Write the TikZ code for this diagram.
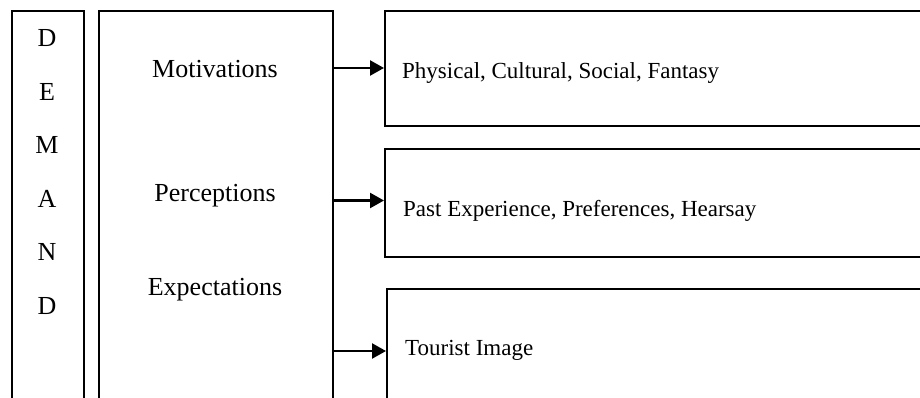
\documentclass[tikz,border=0pt]{standalone}
\usepackage{fontspec}
\setmainfont{Liberation Serif}
\usetikzlibrary{arrows.meta}
\begin{document}
\begin{tikzpicture}[x=1pt,y=-1pt,
  box/.style={draw,line width=1.6pt,anchor=north west,inner sep=0pt},
  txt/.style={font=\fontsize{26}{30}\selectfont,inner sep=0pt},
  rtxt/.style={font=\fontsize{23}{27}\selectfont,inner sep=0pt,anchor=base west},
  arr/.style={line width=2.4pt,-{Triangle[length=14pt,width=15pt]}}]
\useasboundingbox (0,0) rectangle (920,398);
% boxes
\node[box,minimum width=72pt,minimum height=420pt] (demand) at (11,10) {};
\node[box,minimum width=234pt,minimum height=420pt] (mid) at (98,10) {};
\node[box,minimum width=560pt,minimum height=115pt] (r1) at (384,10) {};
\node[box,minimum width=560pt,minimum height=108pt] (r2) at (384,148) {};
\node[box,minimum width=560pt,minimum height=140pt] (r3) at (386,288) {};
% DEMAND letters
\node[txt,anchor=base] (l1) at (47,46.7) {D};
\node[txt,anchor=base] (l2) at (47,100.2) {E};
\node[txt,anchor=base] (l3) at (47,153.7) {M};
\node[txt,anchor=base] (l4) at (47,207.2) {A};
\node[txt,anchor=base] (l5) at (47,260.7) {N};
\node[txt,anchor=base] (l6) at (47,314.2) {D};
% middle texts
\node[txt,anchor=base] (mot) at (215,77.3) {Motivations};
\node[txt,anchor=base] (per) at (215,201.7) {Perceptions};
\node[txt,anchor=base] (exp) at (215,295.7) {Expectations};
% right texts
\node[rtxt] (t1) at (402,79) {Physical, Cultural, Social, Fantasy};
\node[rtxt] (t2) at (403,216) {Past Experience, Preferences, Hearsay};
\node[rtxt] (t3) at (405,355) {Tourist Image};
% arrows
\coordinate (s1) at (333,68);
\coordinate (s2) at (333,200.5);
\coordinate (s3) at (333,351);
\draw[arr] (s1) -- (r1.west |- s1);
\draw[arr] (s2) -- (r2.west |- s2);
\draw[arr] (s3) -- (r3.west |- s3);
\end{tikzpicture}
\end{document}
